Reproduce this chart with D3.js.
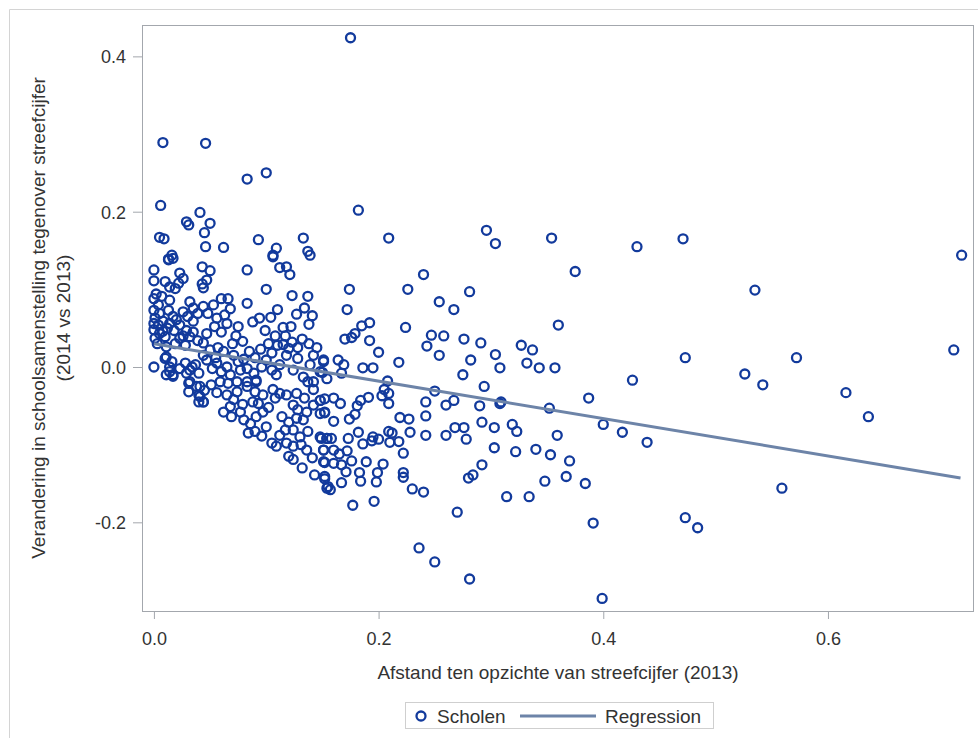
<!DOCTYPE html>
<html>
<head>
<meta charset="utf-8">
<script src="https://cdn.jsdelivr.net/npm/d3@7"></script>
<style>
  body { margin: 0; background: #fff; }
  svg { display: block; font-family: "Liberation Sans", Arial, sans-serif; }
</style>
</head>
<body>
<svg id="drawing_region"></svg>
<script>
// schools: [afstand 2013, verandering 2014 vs 2013]
const scholen = [
  [0.175,0.424],[0.008,0.289],[0.046,0.288],[0.083,0.242],[0.100,0.250],[0.006,0.208],[0.041,0.199],
  [0.182,0.202],[0.029,0.187],[0.031,0.183],[0.050,0.185],[0.045,0.173],[0.005,0.167],[0.009,0.165],
  [0.093,0.164],[0.133,0.166],[0.046,0.155],[0.062,0.154],[0.109,0.153],[0.137,0.149],[0.106,0.144],
  [0.016,0.144],[0.013,0.139],[0.209,0.166],[0.296,0.176],[0.304,0.159],[0.354,0.166],[0.430,0.155],
  [0.471,0.165],[0.719,0.144],[0.375,0.123],[0.240,0.119],[0.535,0.099],[0.174,0.100],[0.226,0.100],
  [0.281,0.097],[0.254,0.084],[0.267,0.074],[0.172,0.074],[0.360,0.054],[0.224,0.051],[0.712,0.022],
  [0.572,0.012],[0.473,0.012],[0.526,-0.009],[0.542,-0.023],[0.616,-0.033],[0.636,-0.064],[0.559,-0.156],
  [0.473,-0.194],[0.484,-0.207],
  [0.185,0.053],[0.192,0.057],[0.179,0.043],[0.176,0.038],[0.170,0.036],[0.192,0.034],[0.247,0.041],
  [0.258,0.040],[0.243,0.027],[0.254,0.015],[0.276,0.036],[0.291,0.031],[0.304,0.016],[0.308,-0.001],
  [0.282,0.009],[0.275,-0.010],[0.327,0.028],[0.337,0.022],[0.332,0.005],[0.343,-0.001],[0.357,-0.001],
  [0.200,0.019],[0.218,0.006],[0.151,0.009],[0.164,0.009],[0.169,0.003],[0.186,-0.001],[0.195,-0.001],
  [0.150,-0.007],[0.167,-0.008],
  [0.208,-0.018],[0.205,-0.029],[0.209,-0.034],[0.203,-0.037],[0.209,-0.047],[0.250,-0.031],[0.294,-0.025],
  [0.242,-0.045],[0.267,-0.043],[0.260,-0.049],[0.290,-0.050],[0.308,-0.047],[0.309,-0.045],[0.352,-0.053],
  [0.387,-0.040],[0.426,-0.017],
  [0.148,-0.043],[0.152,-0.041],[0.160,-0.040],[0.166,-0.047],[0.191,-0.039],[0.184,-0.043],[0.181,-0.050],
  [0.179,-0.061],[0.174,-0.067],[0.160,-0.070],[0.148,-0.060],[0.152,-0.059],
  [0.219,-0.065],[0.227,-0.067],[0.242,-0.063],[0.228,-0.084],[0.242,-0.088],[0.260,-0.088],[0.268,-0.078],
  [0.276,-0.078],[0.278,-0.093],[0.292,-0.071],[0.303,-0.078],[0.319,-0.074],[0.323,-0.083],[0.359,-0.088],
  [0.400,-0.074],[0.417,-0.084],[0.439,-0.097],
  [0.182,-0.084],[0.195,-0.090],[0.200,-0.093],[0.194,-0.095],[0.209,-0.083],[0.212,-0.085],[0.210,-0.097],
  [0.218,-0.096],[0.222,-0.111],[0.148,-0.090],[0.154,-0.092],[0.158,-0.092],[0.151,-0.107],[0.160,-0.107],
  [0.165,-0.112],[0.152,-0.123],[0.160,-0.124],[0.167,-0.126],
  [0.189,-0.122],[0.204,-0.125],[0.199,-0.136],[0.183,-0.136],[0.184,-0.147],[0.198,-0.148],[0.222,-0.136],
  [0.222,-0.142],[0.167,-0.149],[0.152,-0.144],[0.154,-0.156],[0.157,-0.158],[0.230,-0.157],[0.240,-0.161],
  [0.280,-0.143],[0.284,-0.139],[0.292,-0.126],[0.303,-0.104],[0.322,-0.109],[0.340,-0.106],[0.353,-0.113],
  [0.370,-0.121],[0.348,-0.147],[0.367,-0.141],[0.384,-0.150],[0.314,-0.167],[0.334,-0.167],
  [0.177,-0.178],[0.196,-0.173],[0.270,-0.187],[0.391,-0.201],[0.236,-0.233],[0.250,-0.251],[0.281,-0.273],
  [0.399,-0.298],
  // left cloud, upper part
  [0.013,0.138],[0.017,0.140],[0.106,0.142],[0.139,0.144],[0.000,0.125],[0.000,0.111],[0.043,0.129],
  [0.050,0.124],[0.047,0.112],[0.043,0.107],[0.044,0.102],[0.083,0.125],[0.112,0.128],[0.118,0.129],
  [0.121,0.119],[0.023,0.121],[0.026,0.114],[0.022,0.108],[0.010,0.110],[0.014,0.103],[0.019,0.101],
  [0.100,0.100],[0.123,0.092],[0.137,0.091],[0.134,0.076],[0.141,0.066],[0.138,0.055],[0.083,0.082],
  [0.088,0.058],[0.094,0.063],[0.115,0.051],[0.122,0.052],[0.132,0.036],[0.123,0.032],[0.115,0.029],
  [0.000,0.088],[0.004,0.080],[0.000,0.073],[0.005,0.069],[0.001,0.063],[0.000,0.056],[0.004,0.054],
  [0.008,0.059],[0.000,0.048],[0.005,0.043],[0.001,0.037],[0.010,0.039],[0.014,0.086],[0.013,0.073],
  [0.017,0.065],[0.014,0.056],[0.020,0.061],[0.023,0.054],[0.026,0.071],[0.032,0.084],[0.035,0.076],
  [0.030,0.065],[0.035,0.059],[0.039,0.069],[0.044,0.078],[0.048,0.069],[0.053,0.080],[0.056,0.063],
  [0.060,0.088],[0.063,0.067],[0.066,0.088],[0.065,0.056],[0.060,0.045],[0.054,0.052],[0.047,0.043],
  [0.039,0.034],[0.035,0.045],[0.032,0.039],[0.029,0.047],[0.023,0.037],[0.019,0.030],[0.011,0.026],
  [0.002,0.094],[0.007,0.091],[0.003,0.030],[0.008,0.046],[0.012,0.050],[0.018,0.047],[0.026,0.040],
  [0.028,0.028],[0.044,0.031],[0.050,0.022],[0.057,0.025],[0.070,0.030],[0.073,0.040],[0.079,0.033],
  [0.085,0.020],[0.095,0.023],[0.102,0.030],[0.110,0.028],[0.117,0.040],[0.062,0.020],[0.055,0.012],
  [0.080,0.010],[0.090,0.012],[0.105,0.018],[0.120,0.024],[0.128,0.025],[0.138,0.030],[0.145,0.025],
  [0.104,0.064],[0.110,0.074],[0.127,0.068],[0.099,0.047],[0.108,0.040],[0.075,0.052],[0.068,0.075],
  // left cloud, around the line
  [0.000,0.000],[0.011,0.013],[0.016,0.007],[0.014,-0.006],[0.017,-0.010],[0.023,-0.002],[0.028,0.005],
  [0.032,-0.004],[0.037,0.003],[0.040,-0.008],[0.044,0.015],[0.047,0.009],[0.052,-0.002],[0.056,0.005],
  [0.060,-0.006],[0.065,0.000],[0.068,-0.010],[0.071,0.015],[0.075,0.007],[0.077,-0.004],[0.083,-0.002],
  [0.089,-0.008],[0.091,-0.017],[0.096,0.000],[0.100,0.009],[0.105,-0.004],[0.109,-0.010],[0.112,0.003],
  [0.118,0.015],[0.124,-0.004],[0.128,0.011],[0.133,-0.013],[0.139,0.003],[0.142,0.015],[0.148,-0.006],
  [0.151,0.007],[0.154,-0.015],
  [0.010,0.011],[0.014,0.000],[0.017,-0.012],[0.011,-0.010],[0.029,-0.008],[0.034,0.000],[0.031,-0.021],
  [0.038,-0.025],[0.041,-0.038],[0.044,-0.045],[0.045,-0.030],
  // left cloud, lower part
  [0.032,-0.019],[0.041,-0.025],[0.031,-0.032],[0.040,-0.036],[0.044,-0.045],[0.040,-0.045],[0.051,-0.023],
  [0.059,-0.019],[0.066,-0.021],[0.074,-0.019],[0.083,-0.019],[0.091,-0.019],[0.065,-0.036],[0.074,-0.032],
  [0.083,-0.025],[0.090,-0.032],[0.097,-0.036],[0.088,-0.045],[0.093,-0.047],[0.062,-0.058],[0.068,-0.051],
  [0.069,-0.064],[0.077,-0.058],[0.080,-0.068],[0.086,-0.073],[0.091,-0.064],[0.097,-0.058],[0.100,-0.077],
  [0.084,-0.085],[0.090,-0.083],[0.108,-0.040],[0.106,-0.029],[0.112,-0.034],[0.118,-0.036],[0.127,-0.034],
  [0.134,-0.040],[0.142,-0.029],[0.124,-0.049],[0.128,-0.055],[0.136,-0.058],[0.142,-0.049],[0.148,-0.043],
  [0.152,-0.058],[0.114,-0.064],[0.120,-0.071],[0.127,-0.066],[0.133,-0.068],[0.117,-0.081],[0.124,-0.081],
  [0.137,-0.083],[0.105,-0.098],[0.109,-0.102],[0.118,-0.098],[0.124,-0.102],[0.131,-0.100],[0.136,-0.107],
  [0.120,-0.115],[0.124,-0.119],[0.132,-0.130],[0.143,-0.139],[0.151,-0.122],[0.151,-0.107],[0.149,-0.092],
  [0.154,-0.092],[0.152,-0.141],[0.155,-0.154],[0.142,-0.019],[0.137,-0.019],
  [0.056,-0.033],[0.071,-0.042],[0.079,-0.048],[0.096,-0.089],[0.112,-0.088],[0.102,-0.052],[0.130,-0.090],
  [0.141,-0.117],[0.172,-0.108],[0.176,-0.121],[0.171,-0.135],[0.186,-0.099],[0.173,-0.092]
];

const regressionX = [0, 0.718];
const regressionY = [0.030, -0.143];

const xTicks = [0, 0.2, 0.4, 0.6];
const yTicks = [-0.2, 0, 0.2, 0.4];

const xLabel = "Afstand ten opzichte van streefcijfer (2013)";
const yLabel = ["Verandering in schoolsamenstelling tegenover streefcijfer", "(2014 vs 2013)"];
const legendLabels = ["Scholen", "Regression"];

const config = {
    width: 978,
    height: 738,
    margin: {top: 25, right: 4, bottom: 127, left: 142}
};
const markerColor = "#123a9c";
const lineColor = "#6d84a8";
const axisColor = "#a3a7ad";
const textColor = "#333";

const svg = d3.select("#drawing_region")
    .attr("width", config.width)
    .attr("height", config.height);

// outer light frame of the graph
svg.append("path")
    .attr("d", `M9.5,${config.height} V9.5 H${config.width}`)
    .attr("fill", "none")
    .attr("stroke", "#d4d4d4");

const inner_width = config.width - config.margin.left - config.margin.right;
const inner_height = config.height - config.margin.top - config.margin.bottom;

const chart = svg.append("g")
    .attr("transform", `translate(${config.margin.left}, ${config.margin.top})`);

const xscale = d3.scaleLinear()
    .domain([-0.0106, 0.730])
    .range([0, inner_width]);

const yscale = d3.scaleLinear()
    .domain([-0.3142, 0.4404])
    .range([inner_height, 0]);

// SAS style: plain hyphen for negatives
const fmt = d3.formatLocale({decimal: ".", thousands: ",", grouping: [3], currency: ["", ""], minus: "-"}).format(".1f");

const xaxis_group = chart.append("g")
    .attr("transform", `translate(0, ${inner_height})`)
    .call(d3.axisBottom(xscale).tickValues(xTicks).tickFormat(fmt).tickSize(8).tickPadding(8));

const yaxis_group = chart.append("g")
    .call(d3.axisLeft(yscale).tickValues(yTicks).tickFormat(fmt).tickSize(9).tickPadding(7));

[xaxis_group, yaxis_group].forEach(g => {
    g.select(".domain").remove();
    g.selectAll(".tick line").attr("stroke", axisColor);
    g.selectAll(".tick text")
        .attr("fill", textColor)
        .attr("font-size", "18px")
        .attr("font-family", "'Liberation Sans', Arial, sans-serif");
});
xaxis_group.selectAll(".tick text").attr("dy", "1.0em");
yaxis_group.selectAll(".tick text").attr("dy", "0.36em");

// plot frame
chart.append("rect")
    .attr("x", 0.5)
    .attr("y", 0.5)
    .attr("width", inner_width - 1)
    .attr("height", inner_height)
    .attr("fill", "none")
    .attr("stroke", axisColor);

chart.append("g")
    .selectAll("circle")
    .data(scholen)
    .join("circle")
    .attr("cx", d => xscale(d[0]))
    .attr("cy", d => yscale(d[1]))
    .attr("r", 4.5)
    .attr("fill", "none")
    .attr("stroke", markerColor)
    .attr("stroke-width", 2.3);

const line = d3.line()
    .x(d => xscale(d[0]))
    .y(d => yscale(d[1]));

chart.append("path")
    .datum(d3.zip(regressionX, regressionY))
    .attr("d", line)
    .attr("fill", "none")
    .attr("stroke", lineColor)
    .attr("stroke-width", 3);

// axis titles
chart.append("text")
    .attr("x", inner_width / 2)
    .attr("y", inner_height + 68)
    .attr("text-anchor", "middle")
    .attr("font-size", "19px")
    .attr("fill", textColor)
    .text(xLabel);

const ytitle = svg.append("text")
    .attr("transform", `translate(0, ${config.margin.top + inner_height / 2}) rotate(-90)`)
    .attr("text-anchor", "middle")
    .attr("font-size", "19px")
    .attr("fill", textColor);
ytitle.selectAll("tspan")
    .data(yLabel)
    .join("tspan")
    .attr("x", 0)
    .attr("y", (d, i) => i === 0 ? 45 : 70)
    .text(d => d);

// legend
const legend = svg.append("g").attr("transform", "translate(405, 702)");
legend.append("rect")
    .attr("x", 0.5).attr("y", 0.5)
    .attr("width", 308).attr("height", 26)
    .attr("fill", "#fff")
    .attr("stroke", "#cfcfcf");
legend.append("circle")
    .attr("cx", 16).attr("cy", 14).attr("r", 4.5)
    .attr("fill", "none").attr("stroke", markerColor).attr("stroke-width", 2.3);
legend.append("text")
    .attr("x", 32).attr("y", 14).attr("dy", "0.36em")
    .attr("font-size", "19px").attr("fill", textColor)
    .text(legendLabels[0]);
legend.append("line")
    .attr("x1", 115).attr("x2", 191).attr("y1", 14).attr("y2", 14)
    .attr("stroke", lineColor).attr("stroke-width", 3);
legend.append("text")
    .attr("x", 200).attr("y", 14).attr("dy", "0.36em")
    .attr("font-size", "19px").attr("fill", textColor)
    .text(legendLabels[1]);
</script>
</body>
</html>
